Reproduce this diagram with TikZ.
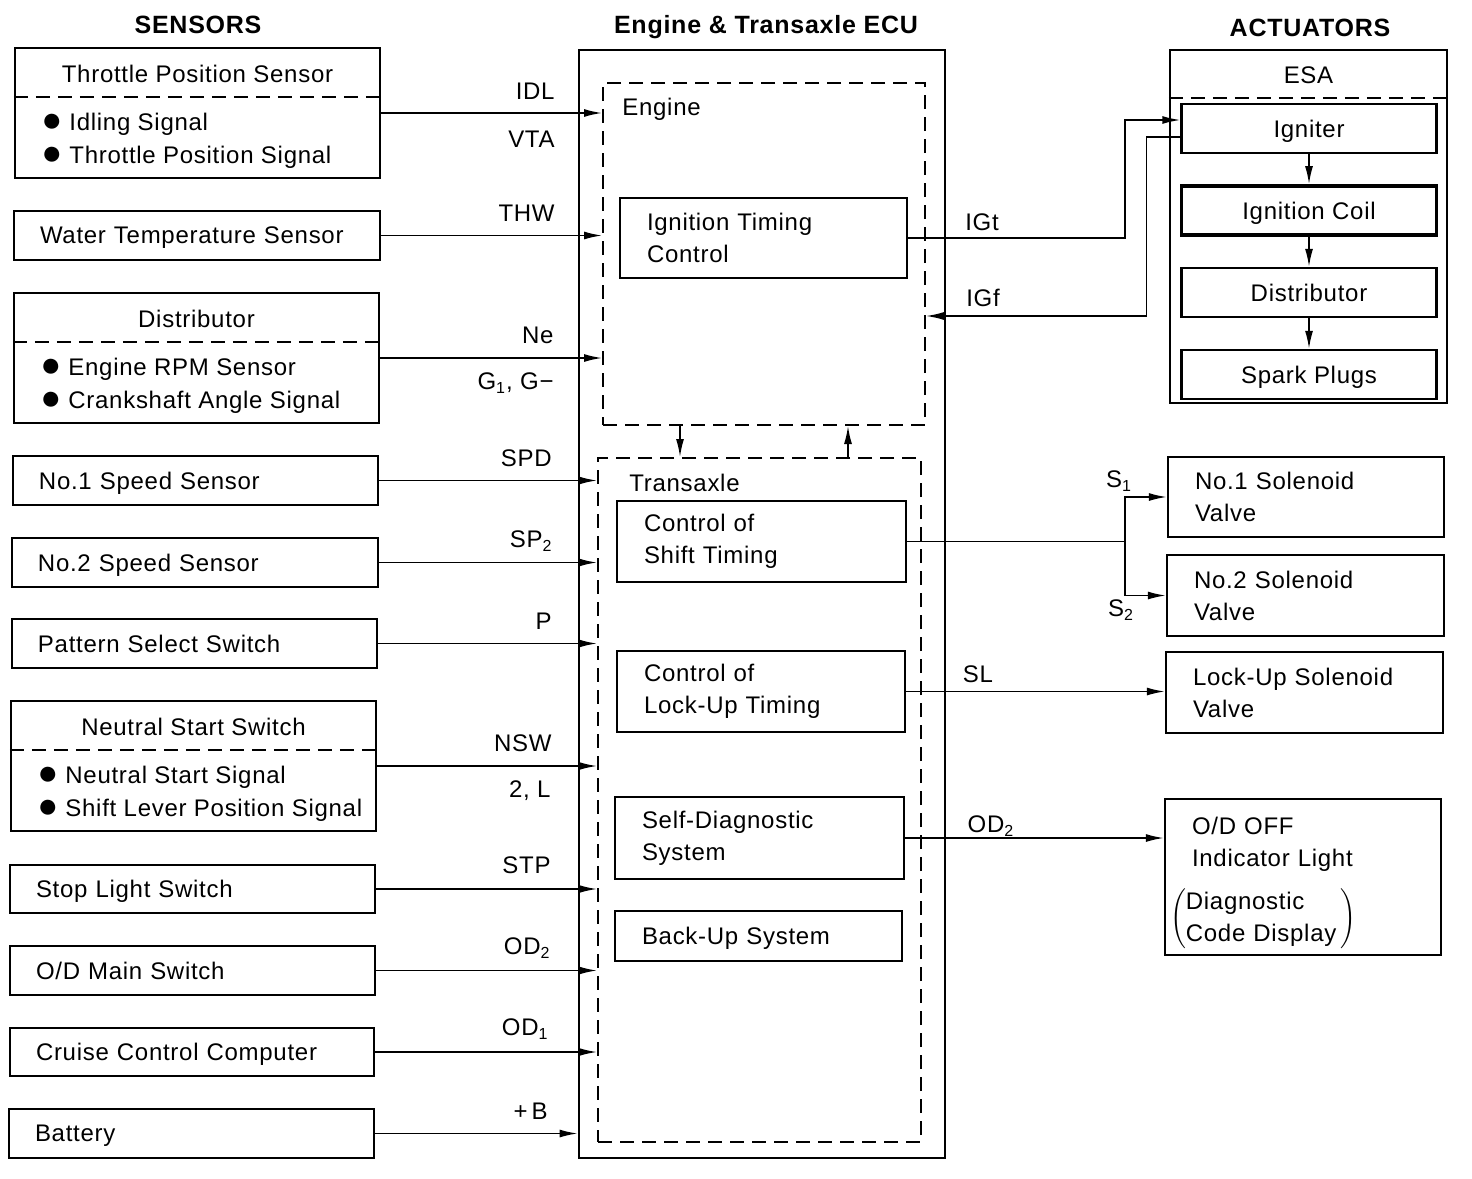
\documentclass[tikz,border=0pt]{standalone}
\usepackage{fontspec}
\usepackage{graphicx}
\setmainfont{Liberation Sans}[LetterSpace=3.0]
\usetikzlibrary{arrows.meta,positioning}
\newcommand{\dotitem}{\raisebox{-0.05ex}{\scalebox{1.45}{●}}\hspace{3.5pt}}

\begin{document}
\begin{tikzpicture}[x=0.5pt, y=-0.5pt, font=\fontsize{12}{16}\selectfont,
  box/.style 2 args={draw, line width=1.2pt, minimum width=#1*0.5pt, minimum height=#2*0.5pt, inner sep=0pt},
  lbox/.style 2 args={box={#1}{#2}, text width=#1*0.5pt-26pt, inner xsep=13pt, align=left},
  one/.style={text depth=0pt},
  grp/.style 2 args={draw, line width=1pt, dash pattern=on 7pt off 4pt, minimum width=#1*0.5pt, minimum height=#2*0.5pt},
  divline/.style={line width=1pt, dash pattern=on 7pt off 4pt},
  sig/.style={-{Latex[length=9pt,width=4pt]}, line width=0.8pt},
  lbl/.style={inner sep=0pt},
  head/.style={inner sep=0pt, font=\fontsize{12.5}{15}\selectfont\bfseries},
  list/.style={inner sep=0pt, anchor=west, align=left, text depth=0pt, font=\fontsize{12}{16.5}\selectfont}]
\fill[white] (0,0) rectangle (1472,1178);
\useasboundingbox (0,0) rectangle (1472,1178);

% headings
\node[head] (hsen) at (198,25) {SENSORS};
\node[head] (hecu) at (766,27) {Engine \& Transaxle ECU};
\node[head] (hact) at (1310,28) {ACTUATORS};

% sensors
\node[box={365}{130}] (tps) at (197.5,113) {};
\node[lbl, one] (tpst) at (197.5,74) {Throttle Position Sensor};
\draw[divline] (tps.west |- 0,97) -- (tps.east |- 0,97);
\node[list] (tpsl) at (41,138.5) {\dotitem Idling Signal\\\dotitem Throttle Position Signal};

\node[lbox={366}{49}, one] (wts) at (197,235.5) {Water Temperature Sensor};

\node[box={365}{130}] (dist) at (196.5,358) {};
\node[lbl, one] (distt) at (196.5,319) {Distributor};
\draw[divline] (dist.west |- 0,342) -- (dist.east |- 0,342);
\node[list] (distl) at (40,383.5) {\dotitem Engine RPM Sensor\\\dotitem Crankshaft Angle Signal};

\node[lbox={365}{49}, one] (spda) at (195.5,480.5) {No.1 Speed Sensor};
\node[lbox={366}{49}, one] (spdb) at (195,562.5) {No.2 Speed Sensor};
\node[lbox={365}{49}, one] (pss) at (194.5,643.5) {Pattern Select Switch};

\node[box={365}{130}] (nss) at (193.5,766) {};
\node[lbl, one] (nsst) at (193.5,727) {Neutral Start Switch};
\draw[divline] (nss.west |- 0,750) -- (nss.east |- 0,750);
\node[list] (nssl) at (37,791.5) {\dotitem Neutral Start Signal\\\dotitem Shift Lever Position Signal};

\node[lbox={365}{48}, one] (sls) at (192.5,889) {Stop Light Switch};
\node[lbox={365}{49}, one] (odm) at (192.5,970.5) {O/D Main Switch};
\node[lbox={364}{48}, one] (ccc) at (192,1052) {Cruise Control Computer};
\node[lbox={365}{49}, one] (bat) at (191.5,1133.5) {Battery};

% ECU
\node[box={366}{1108}, line width=1.4pt] (ecu) at (762,604) {};
\node[grp={322}{342}] (eng) at (764,254) {};
\node[grp={323}{684}] (trans) at (759.5,800) {};
\node[lbl, one, anchor=west] (engt) at (622,107) {Engine};
\node[lbl, one, anchor=west] (transt) at (629,483) {Transaxle};
\node[lbox={287}{80}, inner xsep=13.5pt, text width=116.5pt] (itc) at (763.5,238) {Ignition Timing\\Control};
\node[lbox={289}{81}, inner xsep=13.5pt, text width=117.5pt] (cst) at (761.5,541.5) {Control of\\Shift Timing};
\node[lbox={288}{81}, inner xsep=13.5pt, text width=117pt] (clu) at (761,691.5) {Control of\\Lock-Up Timing};
\node[lbox={289}{82}, inner xsep=13.5pt, text width=117.5pt] (sds) at (759.5,838) {Self-Diagnostic\\System};
\node[lbox={287}{50}, one, inner xsep=13.5pt, text width=116.5pt] (bus) at (758.5,936) {Back-Up System};
\draw[sig] ([xshift=-42pt]eng.south) -- ([xshift=-42pt]eng.south |- trans.north);
\draw[sig] ([xshift=42pt]eng.south |- trans.north) -- ([xshift=42pt]eng.south);

% sensor signals
\draw[sig] (tps.east) -- (tps.east -| eng.west);
\draw[sig] (wts.east) -- (wts.east -| eng.west);
\draw[sig] (dist.east) -- (dist.east -| eng.west);
\draw[sig] (spda.east) -- (spda.east -| trans.west);
\draw[sig] (spdb.east) -- (spdb.east -| trans.west);
\draw[sig] (pss.east) -- (pss.east -| trans.west);
\draw[sig] (nss.east) -- (nss.east -| trans.west);
\draw[sig] (sls.east) -- (sls.east -| trans.west);
\draw[sig] (odm.east) -- (odm.east -| trans.west);
\draw[sig] (ccc.east) -- (ccc.east -| trans.west);
\draw[sig] (bat.east) -- (bat.east -| ecu.west);
\node[lbl, anchor=east] (lidl) at (555,91) {IDL};
\node[lbl, anchor=east] (lvta) at (555,139) {VTA};
\node[lbl, anchor=east] (lthw) at (555,213) {THW};
\node[lbl, anchor=east] (lne) at (554,335) {Ne};
\node[lbl, anchor=east] (lg) at (554,383) {G\textsubscript{1}, G−};
\node[lbl, anchor=east] (lspd) at (552,458) {SPD};
\node[lbl, anchor=east] (lsp) at (553,541) {SP\textsubscript{2}};
\node[lbl, anchor=east] (lp) at (552,621) {P};
\node[lbl, anchor=east] (lnsw) at (552,743) {NSW};
\node[lbl, anchor=east] (l2l) at (551,791) {2, L};
\node[lbl, anchor=east] (lstp) at (551,865) {STP};
\node[lbl, anchor=east] (lodb) at (551,948) {OD\textsubscript{2}};
\node[lbl, anchor=east] (loda) at (549,1029) {OD\textsubscript{1}};
\node[lbl, anchor=east] (lb) at (548,1111) {+\,B};

% actuators
\node[box={277}{353}] (esa) at (1308.5,226.5) {};
\node[lbl, one] (esat) at (1308.5,75) {ESA};
\draw[divline] (esa.west |- 0,98) -- (esa.east |- 0,98);
\node[box={255}{49}, one] (ign) at (1309,128.5) {Igniter};
\node[box={255}{49}, one, line width=1.9pt] (coil) at (1309,210.5) {Ignition Coil};
\node[box={255}{49}, one] (adist) at (1309,292.5) {Distributor};
\node[box={255}{49}, one] (spk) at (1309,374.5) {Spark Plugs};
\draw[sig] (ign.south) -- (coil.north);
\draw[sig] (coil.south) -- (adist.north);
\draw[sig] (adist.south) -- (spk.north);

\node[lbox={276}{80}, inner xsep=13.5pt, text width=111pt] (sva) at (1306,497) {No.1 Solenoid\\Valve};
\node[lbox={277}{81}, inner xsep=13.5pt, text width=111.5pt] (svb) at (1305.5,595.5) {No.2 Solenoid\\Valve};
\node[lbox={277}{81}, inner xsep=13.5pt, text width=111.5pt] (lusv) at (1304.5,692.5) {Lock-Up Solenoid\\Valve};
\node[lbox={276}{156}, inner xsep=13.5pt, text width=111pt] (odl) at (1303,877)
  {\rule{0pt}{15.6pt}O/D OFF\\Indicator Light\\[7pt]\hspace*{-11pt}$\left(\begin{tabular}{@{}l@{}}Diagnostic\\Code Display\end{tabular}\,\right)$};

% output signals
\draw[sig] (itc.east) -- ++(108.5pt,0) |- ([yshift=4.25pt]ign.west);
\draw[sig] ([yshift=-4.25pt]ign.west) -- ++(-17pt,0) |- ([yshift=-31pt]eng.east);
\draw[line width=0.8pt] (cst.east) -- ++(109pt,0) coordinate (br);
\draw[sig] (br) |- (sva.west);
\draw[sig] (br) |- (svb.west);
\draw[sig] (clu.east) -- (clu.east -| lusv.west);
\draw[sig] (sds.east) -- (sds.east -| odl.west);
\node[lbl] (ligt) at (982,222) {IGt};
\node[lbl] (ligf) at (983,298) {IGf};
\node[lbl] (lsa) at (1119,481) {S\textsubscript{1}};
\node[lbl] (lsb) at (1121,610) {S\textsubscript{2}};
\node[lbl] (lsl) at (978,674) {SL};
\node[lbl] (lod) at (991,826) {OD\textsubscript{2}};
\end{tikzpicture}
\end{document}
